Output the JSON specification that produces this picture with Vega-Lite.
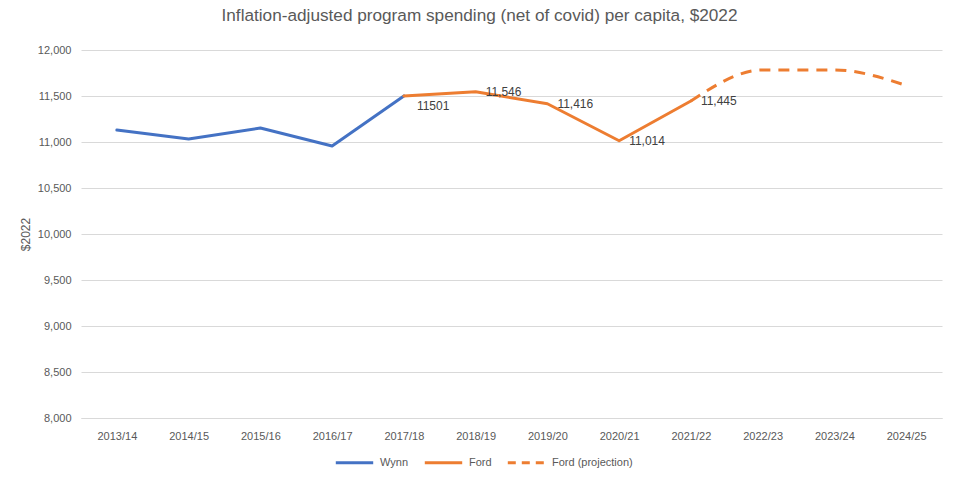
{
  "$schema": "https://vega.github.io/schema/vega-lite/v6.json",
  "autosize": "none",
  "width": 861,
  "height": 368,
  "padding": {"left": 81, "top": 50, "right": 17, "bottom": 62},
  "background": "white",
  "config": {
    "font": "Liberation Sans",
    "view": {"stroke": null}
  },
  "title": {
    "text": "Inflation-adjusted program spending (net of covid) per capita, $2022",
    "anchor": "middle",
    "dx": -32,
    "offset": 20,
    "fontSize": 17.2,
    "fontWeight": "normal",
    "color": "#595959",
    "font": "Liberation Sans"
  },
  "data": {
    "values": [
      {"year": "2013/14", "value": 11130, "series": "Wynn"},
      {"year": "2014/15", "value": 11033, "series": "Wynn"},
      {"year": "2015/16", "value": 11152, "series": "Wynn"},
      {"year": "2016/17", "value": 10957, "series": "Wynn"},
      {"year": "2017/18", "value": 11501, "series": "Wynn"},
      {"year": "2017/18", "value": 11501, "series": "Ford", "label": "11501"},
      {"year": "2018/19", "value": 11546, "series": "Ford", "label": "11,546"},
      {"year": "2019/20", "value": 11416, "series": "Ford", "label": "11,416"},
      {"year": "2020/21", "value": 11014, "series": "Ford", "label": "11,014"},
      {"year": "2021/22", "value": 11445, "series": "Ford", "label": "11,445"},
      {"year": "2021/22", "value": 11445, "series": "Ford (projection)"},
      {"year": "2022/23", "value": 11783, "series": "Ford (projection)"},
      {"year": "2023/24", "value": 11783, "series": "Ford (projection)"},
      {"year": "2024/25", "value": 11615, "series": "Ford (projection)"}
    ]
  },
  "encoding": {
    "x": {
      "field": "year",
      "type": "ordinal",
      "scale": {"type": "point", "padding": 0.5},
      "axis": {
        "title": null,
        "labelAngle": 0,
        "labelFontSize": 11,
        "labelColor": "#595959",
        "ticks": false,
        "domainColor": "#d9d9d9",
        "labelPadding": 12,
        "grid": false
      }
    },
    "y": {
      "field": "value",
      "type": "quantitative",
      "scale": {"domain": [8000, 12000], "nice": false, "zero": false},
      "axis": {
        "title": "$2022",
        "titleFontSize": 12,
        "titleFontWeight": "normal",
        "titleColor": "#595959",
        "titlePadding": 5,
        "values": [8000, 8500, 9000, 9500, 10000, 10500, 11000, 11500, 12000],
        "format": ",.0f",
        "labelFontSize": 11,
        "labelColor": "#595959",
        "labelPadding": 10,
        "ticks": false,
        "domain": false,
        "gridColor": "#d9d9d9"
      }
    }
  },
  "layer": [
    {
      "mark": {"type": "line", "strokeWidth": 3, "strokeCap": "round", "strokeJoin": "round"},
      "transform": [{"filter": "datum.series !== 'Ford (projection)'"}],
      "encoding": {
        "color": {
          "field": "series",
          "type": "nominal",
          "scale": {"domain": ["Wynn", "Ford", "Ford (projection)"], "range": ["#4472C4", "#ED7D31", "#ED7D31"]},
          "legend": {
            "title": null,
            "orient": "none",
            "direction": "horizontal",
            "legendX": 253,
            "legendY": 392,
            "symbolType": "stroke",
            "symbolSize": 1400,
            "symbolStrokeWidth": 3,
            "symbolOpacity": 1,
            "symbolDash": {"expr": "datum.label === 'Ford (projection)' ? [8,6] : [1,0]"},
            "labelFontSize": 11,
            "labelColor": "#595959",
            "labelOffset": 5,
            "columnPadding": 9
          }
        },
        "detail": {"field": "series"}
      }
    },
    {
      "mark": {"type": "line", "strokeWidth": 3, "strokeDash": [11, 8], "interpolate": "monotone"},
      "transform": [{"filter": "datum.series === 'Ford (projection)'"}],
      "encoding": {
        "color": {"value": "#ED7D31"}
      }
    },
    {
      "mark": {"type": "text", "align": "left", "baseline": "middle", "dx": 10, "fontSize": 12, "color": "#404040"},
      "transform": [{"filter": "datum.label != null && datum.label !== '11501'"}],
      "encoding": {"text": {"field": "label"}}
    },
    {
      "mark": {"type": "text", "align": "left", "baseline": "middle", "dx": 13, "dy": 10, "fontSize": 12, "color": "#404040"},
      "transform": [{"filter": "datum.label === '11501'"}],
      "encoding": {"text": {"field": "label"}}
    }
  ]
}
